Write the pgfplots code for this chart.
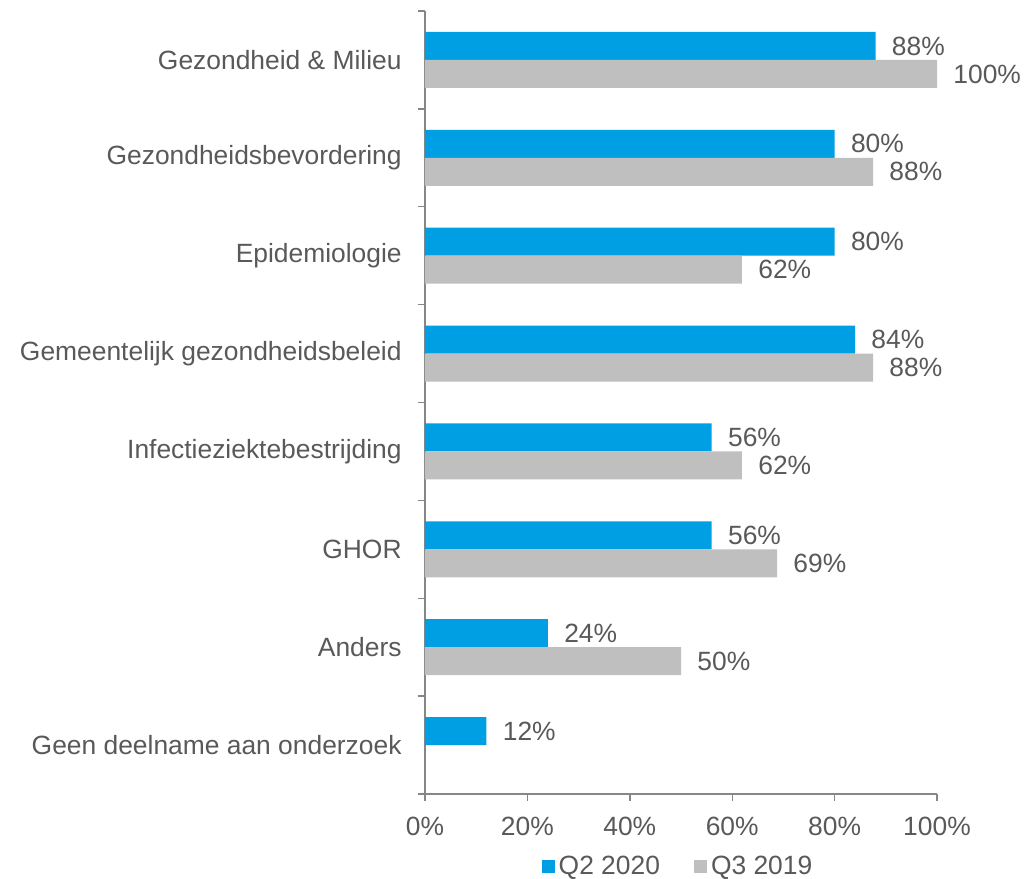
\documentclass[border=0pt]{standalone}
\usepackage{pgfplots}
\pgfplotsset{compat=1.18}
\usepackage{fontspec}
\setmainfont{Liberation Sans}
\definecolor{barblue}{HTML}{009FE3}
\definecolor{bargray}{HTML}{BFBFBF}
\definecolor{txtgray}{HTML}{595959}
\definecolor{axgray}{HTML}{868686}

\begin{document}
\begin{tikzpicture}
\begin{axis}[
    name=ax,
    xbar,
    scale only axis,
    width=256pt, height=391.5pt,
    xmin=0, xmax=100,
    ymin=-0.5, ymax=7.5,
    axis x line*=bottom,
    axis y line*=left,
    axis line style={draw=axgray, line width=0.7pt},
    tick align=outside,
    xtick={0,20,40,60,80,100},
    xticklabels={0\%,20\%,40\%,60\%,80\%,100\%},
    major tick length=3.5pt,
    minor tick length=3.5pt,
    xtick style={draw=axgray, line width=0.7pt},
    ytick={0,...,7},
    yticklabels={Geen deelname aan onderzoek, Anders, GHOR, Infectieziektebestrijding, Gemeentelijk gezondheidsbeleid, Epidemiologie, Gezondheidsbevordering, Gezondheid \& Milieu},
    major y tick style={draw=none},
    minor ytick={-0.5,0.5,...,7.5},
    minor y tick style={draw=axgray, line width=0.7pt},
    ticklabel style={font=\fontsize{13.2}{15}\selectfont, text=txtgray},
    x tick label style={inner sep=0pt, yshift=-8pt},
    y tick label style={inner sep=0pt, xshift=-8pt},
    bar width=14pt,
    point meta=explicit,
    nodes near coords={\pgfmathprintnumber[fixed,precision=0,assume math mode=true]{\pgfplotspointmeta}\%},
    every node near coord/.append style={font=\fontsize{13.2}{15}\selectfont, text=txtgray, anchor=west, inner sep=0pt, xshift=8pt},
    legend style={at={(0.5,-0.093)}, anchor=center, xshift=-1pt, draw=none, fill=none,
        font=\fontsize{13.2}{15}\selectfont, text=txtgray, legend columns=2,
        /tikz/every even column/.append style={column sep=15pt}},
    legend image code/.code={\fill[#1] (0pt,-3.25pt) rectangle (6.5pt,3.25pt);},
    legend cell align=left,
]
\addplot[fill=barblue, draw=none, bar shift=7pt] coordinates {
    (88,7) [88]
    (80,6) [80]
    (80,5) [80]
    (84,4) [84]
    (56,3) [56]
    (56,2) [56]
    (24,1) [24]
    (12,0) [12]
};
\addlegendentry{Q2 2020}
\addplot[fill=bargray, draw=none, bar shift=-7pt] coordinates {
    (100,7) [100]
    (87.5,6) [88]
    (61.9,5) [62]
    (87.5,4) [88]
    (61.9,3) [62]
    (68.75,2) [69]
    (50,1) [50]
};
\addlegendentry{Q3 2019}
\end{axis}
\pgfresetboundingbox
\path (ax.south west) ++(-212.5pt,-42.5pt) coordinate (bl);
\path (ax.north east) ++(44.5pt,5.5pt) coordinate (tr);
\path (bl) rectangle (tr);
\end{tikzpicture}
\end{document}
